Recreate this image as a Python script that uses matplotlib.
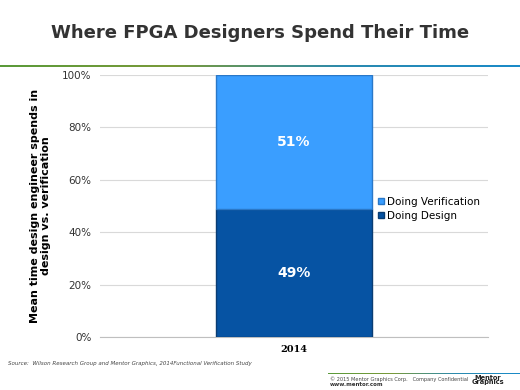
import numpy as np
import matplotlib.pyplot as plt
from matplotlib.colors import LinearSegmentedColormap

years = ['2014']
design = [49]
verification = [51]
series_names = ['Doing Design', 'Doing Verification']
yticks = [0, 20, 40, 60, 80, 100]

c_design = '#0653a3'
c_verif = '#3a9eff'

fig = plt.figure(figsize=(5.2, 3.9), dpi=100)

# title
fig.text(0.5, 1 - 33 / 390, 'Where FPGA Designers Spend Their Time', ha='center', va='center',
         fontsize=13, fontweight='bold', color='#333333')

# gradient rules
grad = LinearSegmentedColormap.from_list('g', ['#5a9a3a', '#7a9a3a', '#2b8ab0', '#1a8ac8'])
gx = np.linspace(0, 1, 256).reshape(1, -1)
lax = fig.add_axes([0, 1 - 67 / 390, 1, 2.5 / 390])
lax.imshow(gx, aspect='auto', cmap=grad)
lax.axis('off')
fax = fig.add_axes([328 / 520, 1 - 374 / 390, 192 / 520, 1.5 / 390])
fax.imshow(gx, aspect='auto', cmap=grad)
fax.axis('off')

ax = fig.add_axes([100 / 520, 1 - 337 / 390, 388 / 520, 262 / 390])
x = np.arange(len(years))
ax.bar(x, design, width=0.8, color=c_design, edgecolor='#0a3d73', linewidth=1, label=series_names[0], zorder=3)
ax.bar(x, verification, bottom=design, width=0.8, color=c_verif, edgecolor='#2a78c8', linewidth=1,
       label=series_names[1], zorder=3)
for xi, d, v in zip(x, design, verification):
    ax.text(xi, d / 2, f'{d}%', ha='center', va='center', color='white', fontsize=10, fontweight='bold', zorder=4)
    ax.text(xi, d + v / 2, f'{v}%', ha='center', va='center', color='white', fontsize=10, fontweight='bold', zorder=4)

ax.set_xlim(-1, 1)
ax.set_ylim(0, 100)
ax.set_yticks(yticks)
ax.set_yticklabels([f'{t}%' for t in yticks], fontsize=7.5, color='#333333')
ax.set_xticks(x)
ax.set_xticklabels(years, fontsize=7, fontweight='bold', family='DejaVu Serif')
ax.tick_params(length=0, pad=6)
ax.grid(axis='y', color='#d9d9d9', linewidth=0.8, zorder=0)
for s in ['top', 'right', 'left']:
    ax.spines[s].set_visible(False)
ax.spines['bottom'].set_color('#bfbfbf')

ax.set_ylabel('Mean time design engineer spends in\ndesign vs. verification', fontsize=8,
              fontweight='bold', labelpad=8, linespacing=1.1)

h, l = ax.get_legend_handles_labels()
leg = ax.legend(h[::-1], l[::-1], loc='center left', bbox_to_anchor=(0.705, 0.49), frameon=False,
                fontsize=7.5, handlelength=0.6, handleheight=0.6, handletextpad=0.3, labelspacing=0.4,
                borderaxespad=0)

fig.text(8 / 520, 1 - 364 / 390,
         'Source:  Wilson Research Group and Mentor Graphics, 2014Functional Verification Study',
         fontsize=4, style='italic', color='#444444', va='center')
fig.text(330 / 520, 1 - 379 / 390, '© 2015 Mentor Graphics Corp.   Company Confidential',
         fontsize=3.6, color='#444444', va='center')
fig.text(330 / 520, 1 - 385 / 390, 'www.mentor.com', fontsize=4, fontweight='bold', color='#333333', va='center')
fig.text(488 / 520, 1 - 380 / 390, 'Mentor\nGraphics', fontsize=4.8, fontweight='bold', color='#222222',
         ha='center', va='center', linespacing=0.7)

fig.savefig('out.png', dpi=100)
